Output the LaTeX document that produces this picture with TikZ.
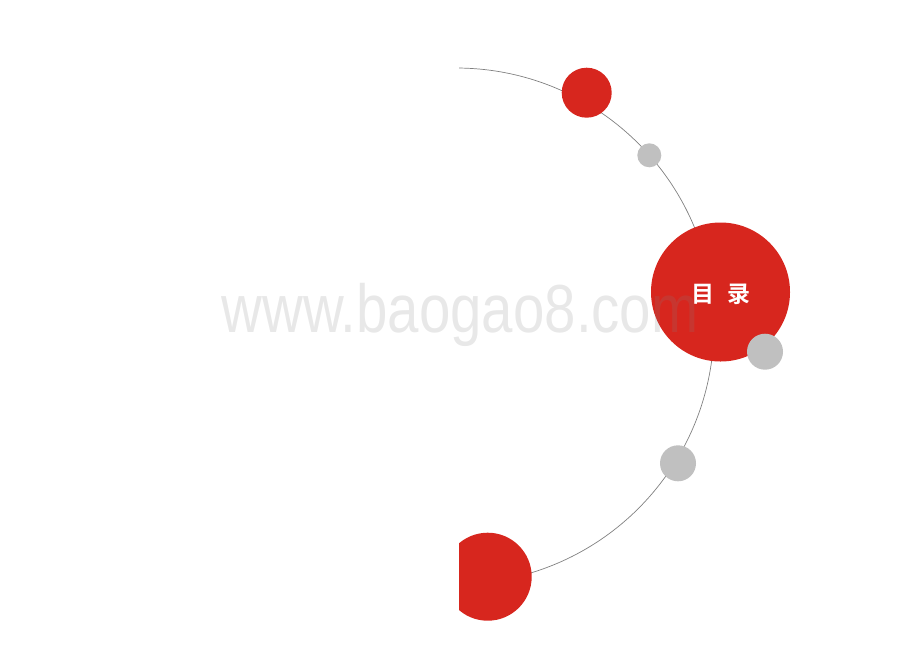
\documentclass[tikz,border=0pt]{standalone}
\usepackage{fontspec}
\usepackage{xcolor}
\newfontfamily\cjk{Noto Sans CJK SC}[BoldFont={Noto Sans CJK SC Bold}]
\newfontfamily\wmfont{Liberation Sans}
\definecolor{tocred}{RGB}{215,38,30}
\definecolor{dotgray}{RGB}{192,192,192}
\definecolor{arcgray}{RGB}{128,128,128}
\definecolor{wmgray}{RGB}{130,130,130}

\begin{document}
\begin{tikzpicture}[x=1pt,y=-1pt,
  redball/.style={circle,fill=tocred,inner sep=0pt},
  grayball/.style={circle,fill=dotgray,inner sep=0pt}]
\useasboundingbox (0,0) rectangle (920,651);
\begin{scope}
\clip (459,0) rectangle (920,651);
\coordinate (hub) at (456,326);
\draw[arcgray,line width=0.7pt] (hub) ++(-89.3:258) arc[start angle=-89.3,end angle=78,radius=258];
\node[redball,minimum size=50pt] (top) at (586.7,92.7) {};
\node[grayball,minimum size=24pt] (dot1) at (649.3,155.3) {};
\node[redball,minimum size=139pt] (toc) at (720.5,292) {};
\node[grayball,minimum size=36pt] (dot2) at (765,351.7) {};
\node[grayball,minimum size=36pt] (dot3) at (678,463.3) {};
\node[redball,minimum size=88pt] (bottom) at (487.7,576.7) {};
\end{scope}
\node[anchor=base,text=white,font=\cjk\bfseries\fontsize{23}{23}\selectfont] (title) at (721,302) {目\hspace{14pt}录};
\node[anchor=base,text=wmgray,opacity=0.18,inner sep=0pt] (mark) at (460,332)
  {\wmfont\fontsize{68}{68}\selectfont\scalebox{0.83}[1]{www.baogao8.com}};
\end{tikzpicture}
\end{document}
